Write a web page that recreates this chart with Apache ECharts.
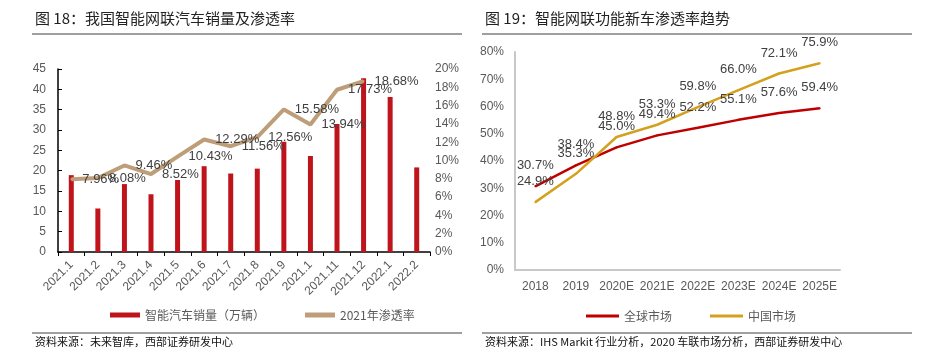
<!DOCTYPE html>
<html><head><meta charset="utf-8">
<script src="https://cdn.jsdelivr.net/npm/echarts@6/dist/echarts.min.js"></script>
<style>html,body{margin:0;padding:0;background:#fff}#c{width:950px;height:362px}</style>
</head><body><div id="c"></div>
<script>
const leftCats = ['2021.1','2021.2','2021.3','2021.4','2021.5','2021.6','2021.7','2021.8','2021.9','2021.1','2021.11','2021.12','2022.1','2022.2'];
const salesValues = [18.9, 10.7, 16.7, 14.2, 17.7, 21.1, 19.3, 20.5, 27.1, 23.6, 31.5, 42.7, 38.1, 20.8];
const rate2021 = [7.96, 8.08, 9.46, 8.52, 10.43, 12.29, 11.56, 12.56, 15.58, 13.94, 17.73, 18.68, null, null];
const rightCats = ['2018','2019','2020E','2021E','2022E','2023E','2024E','2025E'];
const globalMarket = [30.7, 38.4, 45.0, 49.4, 52.2, 55.1, 57.6, 59.4];
const chinaMarket = [24.9, 35.3, 48.8, 53.3, 59.8, 66.0, 72.1, 75.9];

const FF = '"Liberation Sans", Arial, "Noto Sans CJK SC", sans-serif';
const CJK = '"Noto Sans CJK SC", "Liberation Sans", sans-serif';
const chart = echarts.init(document.getElementById('c'), null, {renderer:'canvas'});
const gray = '#595959';
const hiddenSym = {symbol:'circle', symbolSize:2, showSymbol:true};
chart.setOption({
  animation:false,
  textStyle:{fontFamily:FF},
  graphic:[
    {type:'text', left:35, top:11, style:{text:'图 18：我国智能网联汽车销量及渗透率', font:'15px '+CJK, fill:'#222'}},
    {type:'line', shape:{x1:32,y1:34,x2:462,y2:34}, style:{stroke:'#7f7f7f', lineWidth:1.5}},
    {type:'line', shape:{x1:32,y1:333,x2:462,y2:333}, style:{stroke:'#7f7f7f', lineWidth:1.5}},
    {type:'text', left:35, top:336, style:{text:'资料来源：未来智库，西部证券研发中心', font:'11px '+CJK, fill:'#111'}},
    {type:'text', left:485, top:11, style:{text:'图 19：智能网联功能新车渗透率趋势', font:'15px '+CJK, fill:'#222'}},
    {type:'line', shape:{x1:482,y1:34,x2:912,y2:34}, style:{stroke:'#7f7f7f', lineWidth:1.5}},
    {type:'line', shape:{x1:482,y1:333,x2:912,y2:333}, style:{stroke:'#7f7f7f', lineWidth:1.5}},
    {type:'text', left:485, top:336, style:{text:'资料来源：IHS Markit 行业分析，2020 车联市场分析，西部证券研发中心', font:'11px '+CJK, fill:'#111'}}
  ],
  legend:[
    {left:105, top:304, itemWidth:30, itemHeight:5, itemGap:40, icon:'rect',
     textStyle:{fontSize:12, color:gray, fontFamily:CJK},
     data:['智能汽车销量（万辆）','2021年渗透率']},
    {left:581, top:305, itemWidth:33, itemHeight:3, itemGap:38, icon:'rect',
     textStyle:{fontSize:12, color:gray, fontFamily:CJK},
     data:['全球市场','中国市场']}
  ],
  grid:[
    {left:58, right:520, top:69, bottom:110},
    {left:515, right:110, top:52, bottom:92}
  ],
  xAxis:[
    {type:'category', gridIndex:0, data:leftCats, boundaryGap:true,
     axisLine:{lineStyle:{color:'#000', width:1.5}},
     axisTick:{show:true, length:4, lineStyle:{color:'#000'}},
     axisLabel:{rotate:45, fontSize:12, color:gray, margin:11, interval:0}},
    {type:'category', gridIndex:1, data:rightCats, boundaryGap:true,
     axisLine:{lineStyle:{color:'#c8c8c8', width:2}},
     axisTick:{show:false},
     axisLabel:{fontSize:12, color:gray, margin:11, interval:0}}
  ],
  yAxis:[
    {type:'value', gridIndex:0, min:0, max:45, interval:5,
     axisLine:{show:true, lineStyle:{color:'#000', width:1.5}},
     axisTick:{show:true, inside:true, length:4, lineStyle:{color:'#000'}},
     splitLine:{show:false},
     axisLabel:{fontSize:12, color:gray, margin:12}},
    {type:'value', gridIndex:0, min:0, max:20, interval:2, position:'right',
     axisLine:{show:false}, axisTick:{show:false}, splitLine:{show:false},
     axisLabel:{fontSize:12, color:gray, margin:5, formatter:'{value}%'}},
    {type:'value', gridIndex:1, min:0, max:80, interval:10,
     axisLine:{show:true, lineStyle:{color:'#c8c8c8', width:2}},
     axisTick:{show:false}, splitLine:{show:false},
     axisLabel:{fontSize:12, color:gray, margin:11, formatter:'{value}%'}}
  ],
  series:[
    {name:'智能汽车销量（万辆）', type:'bar', xAxisIndex:0, yAxisIndex:0, data:salesValues,
     barWidth:5, itemStyle:{color:'#C0141C'}},
    Object.assign({name:'2021年渗透率', type:'line', xAxisIndex:0, yAxisIndex:1, data:rate2021,
     lineStyle:{color:'#BE9E78', width:4}, itemStyle:{color:'#BE9E78'},
     label:{show:true, position:'right', distance:10, fontSize:13, color:'#404040', formatter:p=>p.value==null?'':p.value.toFixed(2)+'%'}}, hiddenSym),
    Object.assign({name:'全球市场', type:'line', xAxisIndex:1, yAxisIndex:2, data:globalMarket,
     lineStyle:{color:'#C00000', width:2.5}, itemStyle:{color:'#C00000'},
     label:{show:true, position:'top', distance:13, fontSize:13, color:'#404040', formatter:p=>p.value.toFixed(1)+'%'}}, hiddenSym),
    Object.assign({name:'中国市场', type:'line', xAxisIndex:1, yAxisIndex:2, data:chinaMarket,
     lineStyle:{color:'#D4A11E', width:2.5}, itemStyle:{color:'#D4A11E'},
     label:{show:true, position:'top', distance:13, fontSize:13, color:'#404040', formatter:p=>p.value.toFixed(1)+'%'}}, hiddenSym)
  ]
});
</script></body></html>
